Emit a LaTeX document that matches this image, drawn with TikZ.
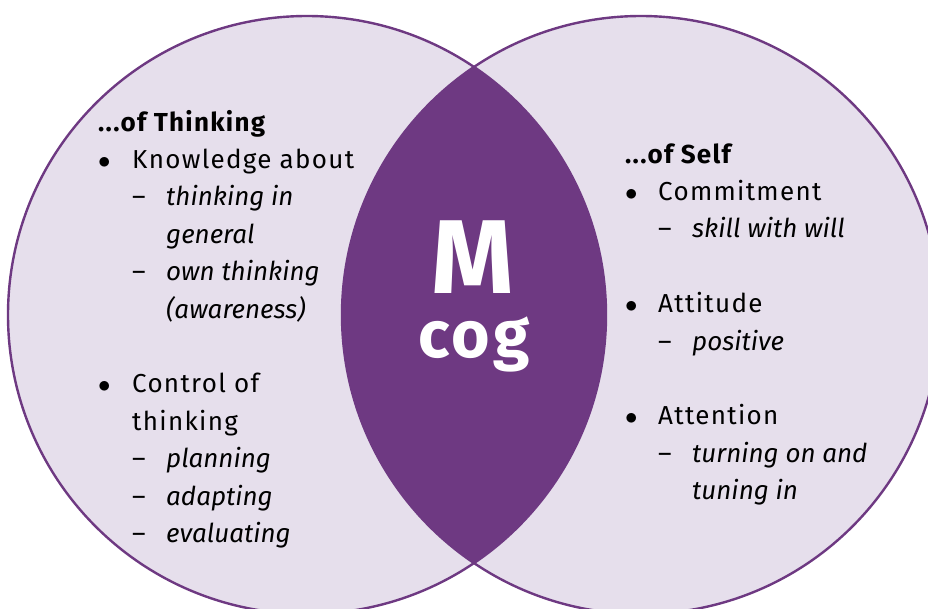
\documentclass[tikz,border=0pt]{standalone}
\usepackage{fontspec}
\setmainfont{Fira Sans}[UprightFeatures={LetterSpace=5}, BoldFeatures={LetterSpace=5}]
\usepackage{array}

\definecolor{mcpurple}{HTML}{6E3982}
\definecolor{mclilac}{HTML}{E6DFEC}

\tikzset{
    venn/.style={draw=mcpurple, line width=2.4pt},
    listtext/.style={anchor=base west, inner sep=0pt, font=\fontsize{26}{37.4}\selectfont},
    bigtext/.style={anchor=base, inner sep=0pt, text=white, font=\bfseries},
}
\newcommand{\bul}{{\fontsize{33}{0}\selectfont$\bullet$}}
\newcommand{\hd}[1]{\multicolumn{3}{@{}l@{}}{\textbf{#1}}}
\newcommand{\itm}[1]{\multicolumn{2}{@{}l@{}}{#1}}

\begin{document}
\begin{tikzpicture}[x=1pt, y=-1pt]
        \useasboundingbox (0,0) rectangle (928,608);
        \clip (0,0) rectangle (928,608);
        \coordinate (CL) at (307,315);
        \coordinate (CR) at (641,315);

        % circles and the lens between them
        \fill [mclilac] (CL) circle (299pt);
        \fill [mclilac] (CR) circle (299pt);
        \begin{scope}
            \clip (CL) circle (299pt);
            \fill [mcpurple] (CR) circle (299pt);
        \end{scope}
        \draw [venn] (CL) circle (299pt);
        \draw [venn] (CR) circle (299pt);

        \node [bigtext, font=\bfseries\fontsize{105}{105}\selectfont] (M) at (473,293) {M};
        \node [bigtext, font=\bfseries\fontsize{66}{66}\selectfont] (cog) at (474,357) {cog};

        \node [listtext] (thinking) at (98,131) {%
            \begin{tabular}[t]{@{}p{34pt}@{}p{34pt}@{}l@{}}
                \hd{...of Thinking}\\
                \bul & \itm{Knowledge about}\\
                & – & \textit{thinking in}\\
                & & \textit{general}\\
                & – & \textit{own thinking}\\
                & & \textit{(awareness)}\\
                \\
                \bul & \itm{Control of}\\
                & \itm{thinking}\\
                & – & \textit{planning}\\
                & – & \textit{adapting}\\
                & – & \textit{evaluating}
            \end{tabular}};

        \node [listtext] (self) at (625,163) {%
            \begin{tabular}[t]{@{}p{33pt}@{}p{34pt}@{}l@{}}
                \hd{...of Self}\\
                \bul & \itm{Commitment}\\
                & – & \textit{skill with will}\\
                \\
                \bul & \itm{Attitude}\\
                & – & \textit{positive}\\
                \\
                \bul & \itm{Attention}\\
                & – & \textit{turning on and}\\
                & & \textit{tuning in}
            \end{tabular}};
    \end{tikzpicture}
\end{document}
